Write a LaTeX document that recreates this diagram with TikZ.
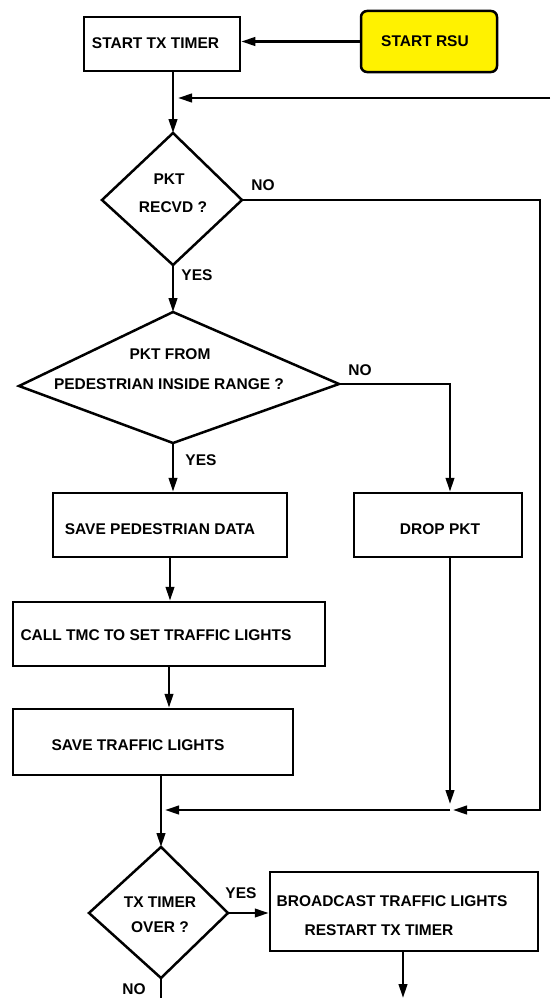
\documentclass[tikz,border=0pt]{standalone}
\usepackage{fontspec}
\setmainfont{Liberation Sans}
\usetikzlibrary{arrows.meta}
\tikzset{
  box/.style={draw, line width=2.5pt, inner sep=0pt},
  txt/.style={inner sep=0pt, font=\fontsize{15.5}{18}\selectfont\bfseries},
  lbl/.style={inner sep=0pt, font=\fontsize{15.5}{18}\selectfont\bfseries},
  conn/.style={line width=2.4pt},
  arr/.style={line width=2.4pt, -{Triangle[length=14pt,width=8.5pt]}},
  dia/.style={draw, line width=2.5pt, line join=miter}
}
\begin{document}
\begin{tikzpicture}[x=1pt,y=-1pt]
\useasboundingbox (0,0) rectangle (550,998);
% boxes
\node[box, minimum width=156pt, minimum height=54pt] (tx) at (162,44) {};
\node[box, fill=yellow, rounded corners=6pt, minimum width=136pt, minimum height=61pt] (rsu) at (429,41.5) {};
\node[box, minimum width=234pt, minimum height=64pt] (sp) at (170,525) {};
\node[box, minimum width=168pt, minimum height=64pt] (dp) at (438,525) {};
\node[box, minimum width=312pt, minimum height=64pt] (ct) at (169,634) {};
\node[box, minimum width=280pt, minimum height=66pt] (stl) at (153,742) {};
\node[box, minimum width=268pt, minimum height=79pt] (bc) at (404,911.5) {};
% diamonds
\coordinate (t1) at (173,133); \coordinate (r1) at (242,200);
\coordinate (b1) at (173,265); \coordinate (l1) at (102,200);
\coordinate (t2) at (173,312); \coordinate (r2) at (339,384);
\coordinate (b2) at (173,443); \coordinate (l2) at (19,386);
\coordinate (t3) at (161,847); \coordinate (r3) at (228,913);
\coordinate (b3) at (161,978); \coordinate (l3) at (89,913);
\draw[dia] (t1) -- (r1) -- (b1) -- (l1) -- cycle;
\draw[dia] (t2) -- (r2) -- (b2) -- (l2) -- cycle;
\draw[dia] (t3) -- (r3) -- (b3) -- (l3) -- cycle;
% texts
\node[txt] (ttx) at (155.5,43) {START TX TIMER};
\node[txt] (trsu) at (425,41) {START RSU};
\node[txt] (td1a) at (169,179) {PKT};
\node[txt] (td1b) at (173,207) {RECVD ?};
\node[txt] (td2a) at (170,354) {PKT FROM};
\node[txt] (td2b) at (169,384) {PEDESTRIAN INSIDE RANGE ?};
\node[txt] (tsp) at (160,529) {SAVE PEDESTRIAN DATA};
\node[txt] (tdp) at (440,529) {DROP PKT};
\node[txt] (tct) at (156,635) {CALL TMC TO SET TRAFFIC LIGHTS};
\node[txt] (tstl) at (138,745) {SAVE TRAFFIC LIGHTS};
\node[txt] (td3a) at (160,902) {TX TIMER};
\node[txt] (td3b) at (160,927) {OVER ?};
\node[txt] (tbc1) at (392,901) {BROADCAST TRAFFIC LIGHTS};
\node[txt] (tbc2) at (379,930) {RESTART TX TIMER};
% branch labels
\node[lbl] (no1) at (263,185) {NO};
\node[lbl] (yes1) at (197,275) {YES};
\node[lbl] (no2) at (360,370) {NO};
\node[lbl] (yes2) at (201,460) {YES};
\node[lbl] (yes3) at (241,893) {YES};
\node[lbl] (no3) at (134,989) {NO};
% helper coordinates
\coordinate (rin) at (550,98);
\coordinate (rj) at (173,98);
\coordinate (c1) at (540,200);
\coordinate (c2) at (540,810);
\coordinate (mr) at (450,810);
\coordinate (ml) at (161,810);
\coordinate (c3) at (450,384);
\coordinate (bend) at (403,998);
\coordinate (nend) at (161,998);
% connectors
\draw[arr] (rsu.west) -- (rsu.west -| tx.east);
\draw[arr] (tx.south -| t1) -- (t1);
\draw[arr, shorten >=5pt] (rin) -- (rj);
\draw[arr, shorten >=3pt] (r1) -- (c1) -- (c2) -- (mr);
\draw[arr] (b1) -- (t2);
\draw[arr] (r2) -- (c3) -- (c3 |- dp.north);
\draw[arr] (b2) -- (b2 |- sp.north);
\draw[arr] (sp.south) -- (sp.south |- ct.north);
\draw[arr] (ct.south) -- (ct.south |- stl.north);
\draw[arr, shorten >=6pt] (dp.south -| mr) -- (mr);
\draw[arr, shorten >=4pt] (mr) -- (ml);
\draw[arr] (stl.south -| t3) -- (t3);
\draw[arr] (r3) -- (r3 -| bc.west);
\draw[arr] (bc.south -| bend) -- (bend);
\draw[conn] (b3) -- (nend);
\end{tikzpicture}
\end{document}
